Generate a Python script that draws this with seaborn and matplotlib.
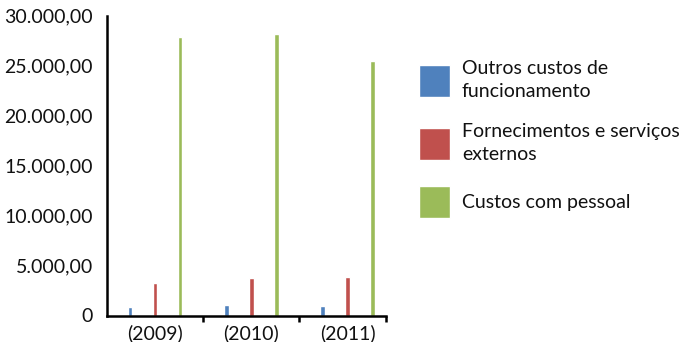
import matplotlib
matplotlib.use("Agg")
import matplotlib.pyplot as plt
import matplotlib.ticker as mticker
import seaborn as sns
import pandas as pd

# Annual costs by category
years = ["(2009)", "(2010)", "(2011)"]
categories = [
    "Outros custos de\nfuncionamento",
    "Fornecimentos e serviços\nexternos",
    "Custos com pessoal",
]
outros = [850, 1080, 980]
fornecimentos = [3280, 3780, 3880]
pessoal = [27850, 28150, 25450]
colors = ["#4F81BD", "#C0504D", "#9BBB59"]

df = pd.DataFrame({
    "ano": years * 3,
    "categoria": [categories[0]] * 3 + [categories[1]] * 3 + [categories[2]] * 3,
    "valor": outros + fornecimentos + pessoal,
})

sns.set_theme(style="white")
plt.rcParams["font.family"] = ["Lato", "DejaVu Sans"]

FS = 14

fig = plt.figure(figsize=(6.86, 3.42), dpi=100)
ax = fig.add_axes([107 / 686, 1 - 315.5 / 342, (386 - 107) / 686, (315.5 - 15.7) / 342])

sns.barplot(data=df, x="ano", y="valor", hue="categoria", order=years,
            hue_order=categories, palette=colors, width=0.78, gap=0.81,
            saturation=1, ax=ax, errorbar=None)

ax.set_ylim(0, 30000)
ax.set_xlim(-0.5, 2.4)
ax.set_xlabel("")
ax.set_ylabel("")

def br_fmt(v, pos):
    if v == 0:
        return "0"
    s = f"{v:,.2f}"
    return s.replace(",", "X").replace(".", ",").replace("X", ".")

ax.yaxis.set_major_locator(mticker.MultipleLocator(5000))
ax.yaxis.set_major_formatter(mticker.FuncFormatter(br_fmt))

for side in ["top", "right"]:
    ax.spines[side].set_visible(False)
for side in ["left", "bottom"]:
    ax.spines[side].set_color("black")
    ax.spines[side].set_linewidth(1.8)

ax.tick_params(axis="y", which="major", direction="in", length=8, width=1.8,
               color="black", labelsize=FS, pad=10, labelcolor="#111111")
ax.tick_params(axis="x", which="major", length=0, labelsize=FS, pad=6,
               labelcolor="#111111")
ax.xaxis.set_minor_locator(mticker.FixedLocator([0.5, 1.5, 2.4]))
ax.tick_params(axis="x", which="minor", direction="out", length=4, width=1.8,
               color="black", bottom=True)

sns.move_legend(ax, "upper left", bbox_to_anchor=(419 / 686, 1 - 60 / 342),
                bbox_transform=fig.transFigure, frameon=False, title=None,
                fontsize=FS, handlelength=1.6, handleheight=2.15,
                handletextpad=0.6, labelspacing=1.2, borderpad=0,
                borderaxespad=0)
for t in ax.get_legend().get_texts():
    t.set_linespacing(1.4)
    t.set_color("#111111")

fig.savefig("out.png", dpi=100)
